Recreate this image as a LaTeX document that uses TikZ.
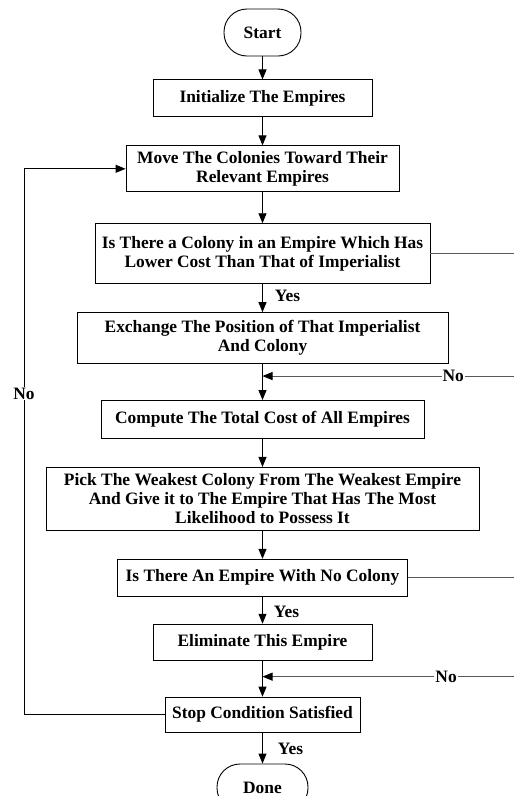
\documentclass[tikz,border=0pt]{standalone}
\usepackage{fontspec}
\setmainfont{Liberation Serif}
\usetikzlibrary{arrows.meta, positioning, calc}

\begin{document}
\begin{tikzpicture}[
        x=1pt, y=1pt,
        font=\fontsize{17.4}{19}\selectfont\bfseries,
        term/.style={rectangle, draw, line width=0.9pt, rounded corners=23pt, minimum height=47pt, inner sep=2pt},
        process/.style={rectangle, draw, line width=0.9pt, align=center, inner sep=3pt},
        arrow/.style={-{Triangle[length=10pt, width=8pt]}, line width=0.9pt},
        branch/.style={-{Triangle[length=10pt, width=8pt, color=black]}, line width=0.8pt, color=black!65},
        tag/.style={fill=white, text=black, inner sep=1pt},
        yes/.style={right, inner sep=0pt}
    ]
        \useasboundingbox (0,0) rectangle (514,-796);
        \node[term, minimum width=77pt] (start) at (262.5,-32.5) {Start};
        \node[process, minimum width=219pt, minimum height=37pt, below=23pt of start] (init) {Initialize The Empires};
        \node[process, minimum width=273pt, minimum height=46pt, below=28pt of init] (move) {Move The Colonies Toward Their\\Relevant Empires};
        \node[process, minimum width=335pt, minimum height=60pt, below=31pt of move] (q1) {Is There a Colony in an Empire Which Has\\Lower Cost Than That of Imperialist};
        \node[process, minimum width=371pt, minimum height=51pt, below=28pt of q1] (exch) {Exchange The Position of That Imperialist\\And Colony};
        \node[process, minimum width=323pt, minimum height=38pt, below=36pt of exch] (comp) {Compute The Total Cost of All Empires};
        \node[process, minimum width=433pt, minimum height=63pt, below=28pt of comp] (pick) {Pick The Weakest Colony From The Weakest Empire\\And Give it to The Empire That Has The Most\\Likelihood to Possess It};
        \node[process, minimum width=290pt, minimum height=37pt, below=28pt of pick] (q2) {Is There An Empire With No Colony};
        \node[process, minimum width=219pt, minimum height=36pt, below=27pt of q2] (elim) {Eliminate This Empire};
        \node[process, minimum width=195pt, minimum height=35pt, below=36pt of elim] (stop) {Stop Condition Satisfied};
        \node[term, minimum width=91pt, below=31pt of stop] (done) {Done};

        \coordinate (j1) at ([yshift=-12pt]exch.south);
        \coordinate (j2) at ([yshift=-16pt]elim.south);
        \coordinate (rx) at (515,0);
        \coordinate (lx) at (24,0);

        \draw[arrow] (start) -- (init);
        \draw[arrow] (init) -- (move);
        \draw[arrow] (move) -- (q1);
        \draw[arrow] (q1) -- node[yes, xshift=12pt, yshift=2pt] {Yes} (exch);
        \draw[arrow] (exch) -- (comp);
        \draw[arrow] (comp) -- (pick);
        \draw[arrow] (pick) -- (q2);
        \draw[arrow] (q2) -- node[yes, xshift=11pt, yshift=-2pt] {Yes} (elim);
        \draw[arrow] (elim) -- (stop);
        \draw[arrow] (stop) -- node[yes, xshift=15pt, yshift=-1pt] {Yes} (done);

        % No branches on the right
        \draw[branch] (q1.east) -- (q1.east -| rx) -- (rx |- j1) -- node[pos=0.245, tag] {No} (j1);
        \draw[branch] (q2.east) -- (q2.east -| rx) -- (rx |- j2) -- node[pos=0.273, tag] {No} (j2);

        % loop back
        \draw[arrow] (stop.west) -| node[pos=0.794, tag] {No} (lx |- move.west) -- (move.west);
\end{tikzpicture}
\end{document}
